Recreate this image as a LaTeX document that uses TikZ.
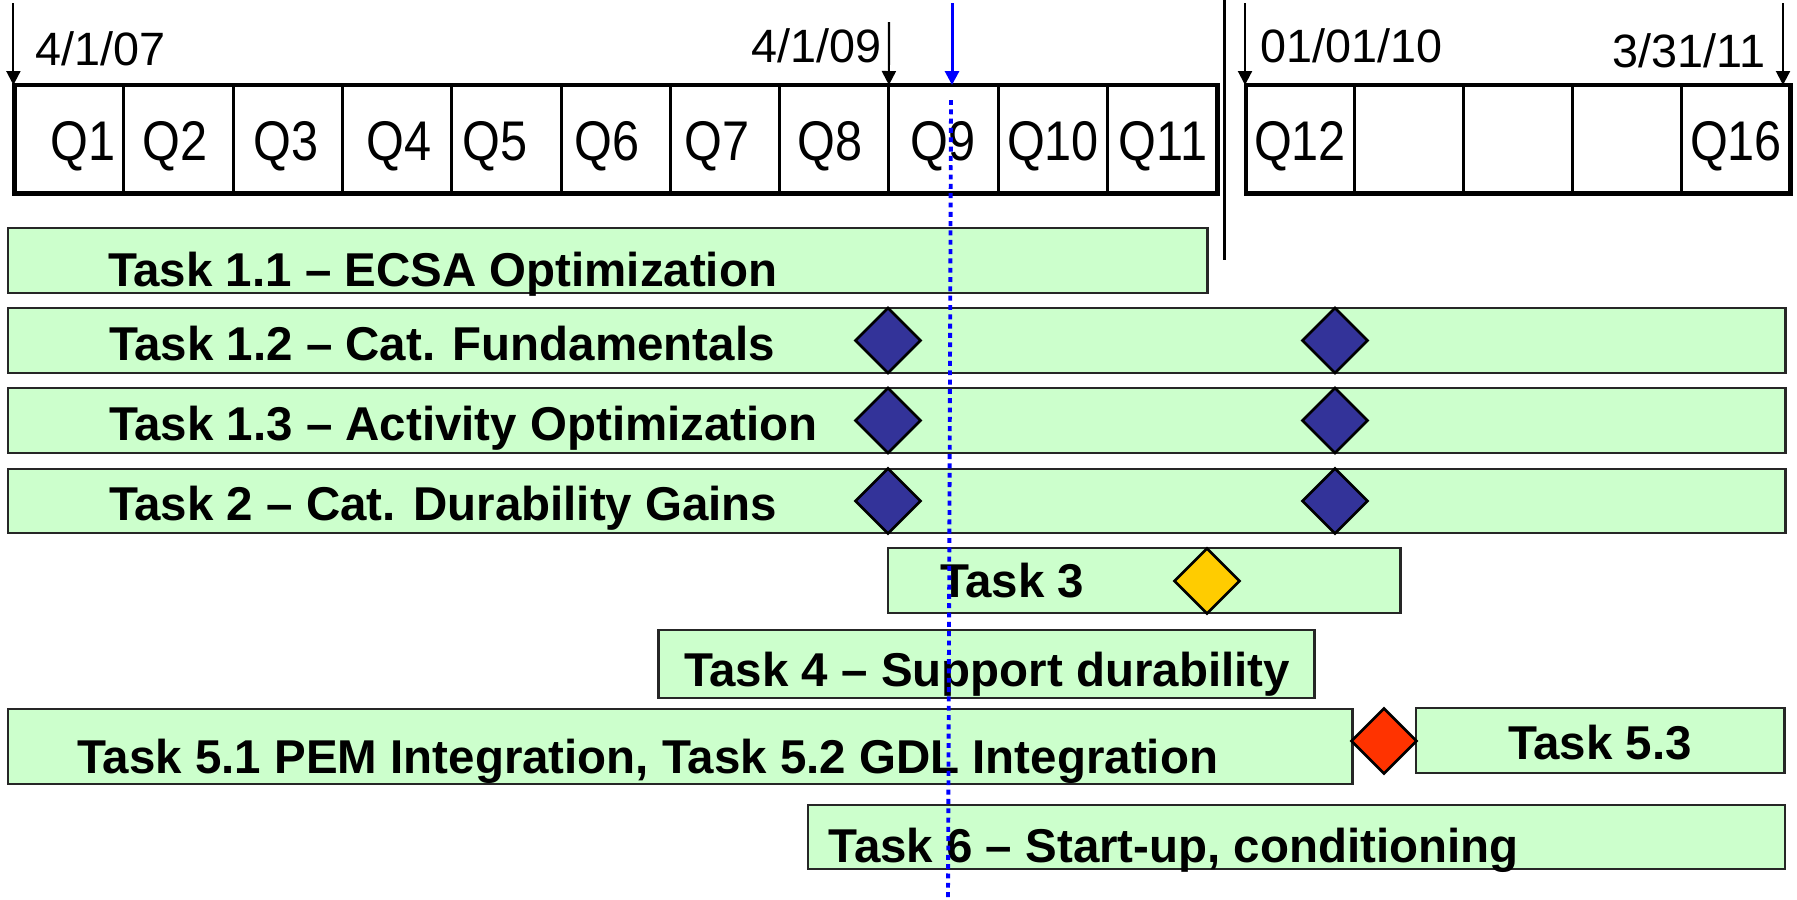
\documentclass[tikz,border=0pt]{standalone}
\usepackage{fontspec}
\setmainfont{Liberation Sans}
\newfontfamily\qfont[FakeStretch=0.87]{Liberation Sans}
\usetikzlibrary{arrows.meta,positioning,shapes.geometric}
\definecolor{barfill}{RGB}{204,255,204}
\definecolor{navy}{RGB}{51,51,153}
\definecolor{gold}{RGB}{255,204,0}
\definecolor{alert}{RGB}{255,51,0}

\begin{document}
\begin{tikzpicture}[x=0.01cm,y=-0.01cm,>={Triangle[width=1.4mm,length=1.4mm]},
    every node/.style={inner sep=0pt,outer sep=0pt},
    qcell/.style={draw,line width=0.85pt,minimum width=1.093cm,minimum height=1.08cm,anchor=north west},
    qframe/.style={draw,line width=1.4pt,minimum height=1.08cm,anchor=north west},
    qtext/.style={font=\qfont\fontsize{15.9}{18}\selectfont,anchor=base},
    datelabel/.style={font=\fontsize{13.3}{16}\selectfont},
    taskbar/.style={draw=black!85,line width=0.75pt,fill=barfill,anchor=north west},
    tasklabel/.style={font=\bfseries\fontsize{13.5}{16}\selectfont,anchor=base west},
    milestone/.style={diamond,draw,line width=0.75pt,minimum width=0.65cm,minimum height=0.65cm}]
    \useasboundingbox (0,0) rectangle (1797,899);

    \foreach \i/\tx in {1/83,2/175,3/286,4/399,5/495,6/607,7/717,8/830,9/943,10/1053,11/1163} {
        \node[qcell] (q\i) at ({14.5+109.3*(\i-1)},85) {};
        \node[qtext] (ql\i) at (\tx,160) {Q\i};
    }
    \node[qframe,minimum width=12.025cm] (lframe) at (14.5,85) {};
    \foreach \i in {12,...,16}
        \node[qcell,minimum width=1.088cm] (q\i) at ({1246+108.8*(\i-12)},85) {};
    \node[qframe,minimum width=5.44cm] (rframe) at (1246,85) {};
    \node[qtext] (ql12) at (1300,160) {Q12};
    \node[qtext] (ql16) at (1736,160) {Q16};

    \coordinate (s1) at (13.4,3);
    \coordinate (s2) at (889,22);
    \coordinate (s3) at (1245,3);
    \coordinate (s4) at (1783,3);
    \coordinate (now) at (952,3);
    \draw[->,line width=0.6pt] (s1) -- (s1 |- lframe.north);
    \draw[->,line width=0.6pt] (s2) -- (q9.north west);
    \draw[->,line width=0.6pt] (s3) -- (s3 |- rframe.north);
    \draw[->,line width=0.6pt] (s4) -- (s4 |- rframe.north);
    \draw[->,blue,line width=0.85pt] (now) -- (now |- lframe.north);

    \node[datelabel,anchor=base west] (d1) at (35,65) {4/1/07};
    \node[datelabel,anchor=base east] (d2) at (882,62) {4/1/09};
    \node[datelabel,anchor=base west] (d3) at (1260,62) {01/01/10};
    \node[datelabel,anchor=base east] (d4) at (1765,67) {3/31/11};

    \coordinate (sepa) at (1224,0);
    \coordinate (sepb) at (1224,260);
    \draw[line width=0.85pt] (sepa) -- (sepb);

    \node[taskbar,minimum width=11.99cm,minimum height=0.65cm] (t11) at (8,228) {};
    \node[taskbar,minimum width=17.765cm,minimum height=0.65cm] (t12) at (8,308) {};
    \node[taskbar,minimum width=17.765cm,minimum height=0.65cm] (t13) at (8,388) {};
    \node[taskbar,minimum width=17.765cm,minimum height=0.64cm] (t2) at (8,469) {};
    \node[taskbar,minimum width=5.12cm,minimum height=0.65cm] (t3) at (888,548) {};
    \node[taskbar,minimum width=6.555cm,minimum height=0.68cm] (t4) at (658.5,630) {};
    \node[taskbar,minimum width=13.44cm,minimum height=0.75cm] (t51) at (8,709) {};
    \node[taskbar,minimum width=3.685cm,minimum height=0.65cm] (t53) at (1416,708) {};
    \node[taskbar,minimum width=9.765cm,minimum height=0.64cm] (t6) at (808,805) {};

    \node[milestone,fill=navy] (m12a) at (888,340.5) {};
    \node[milestone,fill=navy] (m12b) at (1335,340.5) {};
    \node[milestone,fill=navy] (m13a) at (888,420.5) {};
    \node[milestone,fill=navy] (m13b) at (1335,420.5) {};
    \node[milestone,fill=navy] (m2a) at (888,501) {};
    \node[milestone,fill=navy] (m2b) at (1335,501) {};
    \node[milestone,fill=gold] (m3) at (1207,581) {};
    \node[milestone,fill=alert] (m5) at (1384,741) {};

    \node[tasklabel] (l11) at (108,286) {Task 1.1 -- ECSA Optimization};
    \node[tasklabel] (l12) at (109,360) {Task 1.2 -- Cat. Fundamentals};
    \node[tasklabel] (l13) at (109,440) {Task 1.3 -- Activity Optimization};
    \node[tasklabel] (l2) at (109,520) {Task 2 -- Cat. Durability Gains};
    \node[tasklabel] (l3) at (940,597) {Task 3};
    \node[tasklabel] (l4) at (684,686) {Task 4 -- Support durability};
    \node[tasklabel] (l51) at (77.5,773) {Task 5.1 PEM Integration, Task 5.2 GDL Integration};
    \node[tasklabel,anchor=base] (l53) at (1600,759) {Task 5.3};
    \node[tasklabel] (l6) at (828.5,862) {Task 6 -- Start-up, conditioning};

    \coordinate (now1) at (951,100);
    \coordinate (now2) at (948,899);
    \draw[blue,line width=1.1pt,dash pattern=on 1.4pt off 1.25pt] (now1) -- (now2);
\end{tikzpicture}
\end{document}
